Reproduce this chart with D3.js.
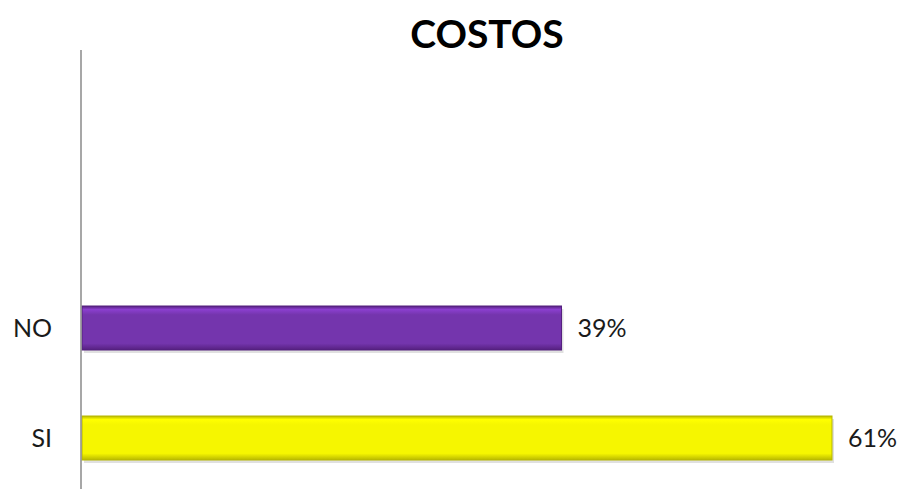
<!DOCTYPE html>
<html>
<head>
<meta charset="utf-8">
<script src="https://cdn.jsdelivr.net/npm/d3@7.9.0/dist/d3.min.js"></script>
<style>
  body { margin: 0; background: #fff; }
  svg text { font-family: Lato, "Open Sans", sans-serif; fill: #1a1a1a; }
</style>
</head>
<body>
<svg id="chart" width="904" height="489"></svg>
<script>
// chart data
const categories = ["NO", "SI"];
const values = [0.39, 0.61];
const colors = ["#7435ad", "#f6f600"];
const darker = ["#55207f", "#b8b800"];

const svg = d3.select("#chart");
const x = d3.scaleLinear().domain([0, 0.61]).range([82, 832]);
const y = d3.scaleBand().domain(categories).range([273, 493])
    .paddingInner(0.6).paddingOuter(0.3);

// gradients for the bevelled look
const defs = svg.append("defs");
categories.forEach((c, i) => {
    let g = defs.append("linearGradient").attr("id", "grad" + i)
        .attr("x1", 0).attr("y1", 0).attr("x2", 0).attr("y2", 1);
    g.append("stop").attr("offset", "0%").attr("stop-color", darker[i]);
    g.append("stop").attr("offset", "8%").attr("stop-color", d3.color(colors[i]).brighter(0.5));
    g.append("stop").attr("offset", "20%").attr("stop-color", colors[i]);
    g.append("stop").attr("offset", "85%").attr("stop-color", colors[i]);
    g.append("stop").attr("offset", "100%").attr("stop-color", darker[i]);
});

svg.append("text")
    .attr("x", 487).attr("y", 48)
    .attr("text-anchor", "middle")
    .attr("font-size", 39).attr("font-weight", "bold")
    .style("fill", "#000")
    .text("COSTOS");

// shadow under bars
svg.selectAll(".shadow").data(values).join("rect")
    .attr("x", x(0) + 2)
    .attr("y", (d, i) => y(categories[i]) + 3)
    .attr("width", d => x(d) - x(0))
    .attr("height", y.bandwidth())
    .attr("fill", "#000").attr("opacity", 0.12);

svg.selectAll(".bar").data(values).join("rect")
    .attr("class", "bar")
    .attr("x", x(0))
    .attr("y", (d, i) => y(categories[i]))
    .attr("width", d => x(d) - x(0))
    .attr("height", y.bandwidth())
    .attr("fill", (d, i) => `url(#grad${i})`)
    .attr("stroke", (d, i) => darker[i]).attr("stroke-width", 1);

svg.selectAll(".val").data(values).join("text")
    .attr("x", d => x(d) + 16)
    .attr("y", (d, i) => y(categories[i]) + y.bandwidth() / 2)
    .attr("dy", "0.35em")
    .attr("font-size", 25)
    .text(d => d3.format(".0%")(d));

svg.selectAll(".cat").data(categories).join("text")
    .attr("x", 52)
    .attr("y", d => y(d) + y.bandwidth() / 2)
    .attr("dy", "0.35em")
    .attr("text-anchor", "end")
    .attr("font-size", 25)
    .text(d => d);

svg.append("line")
    .attr("x1", 81).attr("x2", 81)
    .attr("y1", 50).attr("y2", 489)
    .attr("stroke", "#8a8a8a").attr("stroke-width", 1.5);
</script>
</body>
</html>
